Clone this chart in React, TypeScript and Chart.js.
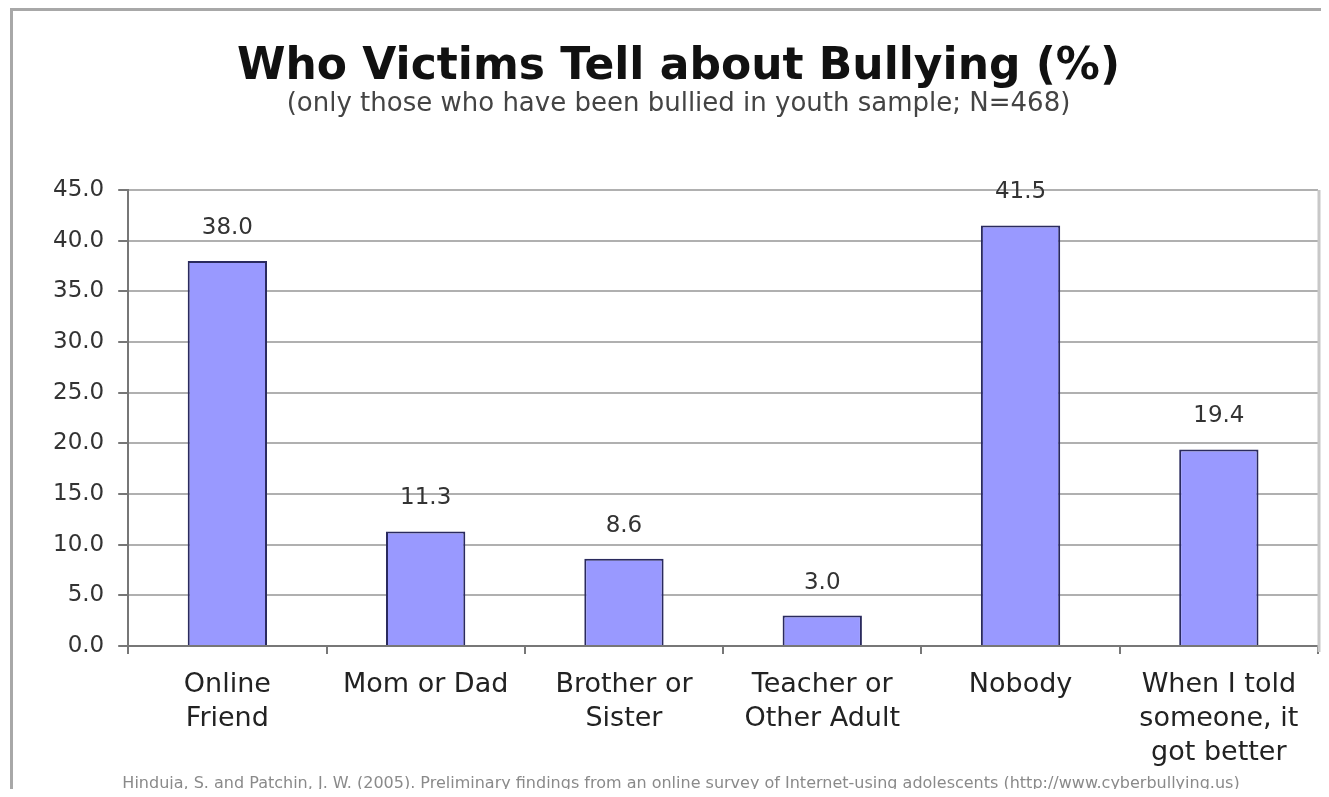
import React, { useEffect, useRef } from "react";
import { Chart, registerables } from "chart.js";

Chart.register(...registerables);

const categories: string[][] = [
  ["Online", "Friend"],
  ["Mom or Dad"],
  ["Brother or", "Sister"],
  ["Teacher or", "Other Adult"],
  ["Nobody"],
  ["When I told", "someone, it", "got better"],
];
const values: number[] = [38.0, 11.3, 8.6, 3.0, 41.5, 19.4];
const yMin = 0;
const yMax = 45;
const yStep = 5;

const titleText = "Who Victims Tell about Bullying (%)";
const subtitleText = "(only those who have been bullied in youth sample; N=468)";
const footerText =
  "Hinduja, S. and Patchin, J. W. (2005). Preliminary findings from an online survey of Internet-using adolescents (http://www.cyberbullying.us)";

const FONT = "'DejaVu Sans', 'Liberation Sans', Arial, sans-serif";

const valueLabelPlugin = {
  id: "valueLabels",
  afterDatasetsDraw(chart: any) {
    const ctx = chart.ctx;
    const meta = chart.getDatasetMeta(0);
    ctx.save();
    ctx.font = `23px ${FONT}`;
    ctx.fillStyle = "#333333";
    ctx.textAlign = "center";
    ctx.textBaseline = "middle";
    meta.data.forEach((bar: any, i: number) => {
      const v = chart.data.datasets[0].data[i] as number;
      ctx.fillText(v.toFixed(1), bar.x, bar.y - 33);
    });
    ctx.restore();
  },
};

const frameExtrasPlugin = {
  id: "frameExtras",
  afterDraw(chart: any) {
    const ctx = chart.ctx;
    const a = chart.chartArea;
    ctx.save();
    ctx.strokeStyle = "#c8c8c8";
    ctx.lineWidth = 3;
    ctx.beginPath();
    ctx.moveTo(a.right + 1, a.top);
    ctx.lineTo(a.right + 1, a.bottom + 6);
    ctx.stroke();
    ctx.font = `16px ${FONT}`;
    ctx.fillStyle = "#8a8a8a";
    ctx.textAlign = "center";
    ctx.textBaseline = "middle";
    ctx.fillText(footerText, 681, 784);
    ctx.restore();
  },
};

export default function App() {
  const canvasRef = useRef<HTMLCanvasElement | null>(null);

  useEffect(() => {
    if (!canvasRef.current) return;
    const chart = new Chart(canvasRef.current, {
      type: "bar",
      data: {
        labels: categories,
        datasets: [
          {
            data: values,
            backgroundColor: "#9999ff",
            borderColor: "#2a2a5e",
            borderWidth: 2,
            barPercentage: 0.8,
            categoryPercentage: 0.5,
          },
        ],
      },
      options: {
        animation: false,
        responsive: false,
        maintainAspectRatio: false,
        layout: { padding: { left: 39, right: 11, top: 0, bottom: 13 } },
        plugins: {
          legend: { display: false },
          tooltip: { enabled: false },
          title: {
            display: true,
            text: titleText,
            color: "#111111",
            font: { family: FONT, size: 44, weight: "bold", lineHeight: 1 },
            padding: { top: 46, bottom: 1 },
          },
          subtitle: {
            display: true,
            text: subtitleText,
            color: "#444444",
            font: { family: FONT, size: 26, lineHeight: 1 },
            padding: { top: 0, bottom: 73 },
          },
        },
        scales: {
          x: {
            grid: {
              display: true,
              drawOnChartArea: false,
              offset: true,
              tickLength: 8,
              color: "#777777",
              lineWidth: 2,
            },
            border: { color: "#777777", width: 2 },
            ticks: {
              color: "#222222",
              font: { family: FONT, size: 27, lineHeight: 1.26 },
              padding: 14,
              maxRotation: 0,
              minRotation: 0,
              autoSkip: false,
            },
          },
          y: {
            min: yMin,
            max: yMax,
            ticks: {
              stepSize: yStep,
              color: "#333333",
              font: { family: FONT, size: 23 },
              padding: 14,
              callback: (v: any) => Number(v).toFixed(1),
            },
            grid: {
              color: "#b0b0b0",
              lineWidth: 2,
              tickLength: 10,
              tickColor: "#777777",
            },
            border: { color: "#777777", width: 2 },
          },
        },
      },
      plugins: [valueLabelPlugin, frameExtrasPlugin],
    });
    return () => chart.destroy();
  }, []);

  return (
    <div
      style={{
        position: "relative",
        width: 1329,
        height: 797,
        margin: "-8px",
        overflow: "hidden",
        background: "#ffffff",
      }}
    >
      <div
        style={{
          position: "absolute",
          left: 10,
          top: 8,
          width: 1340,
          height: 785,
          borderTop: "3px solid #a8a8a8",
          borderLeft: "3px solid #a8a8a8",
          borderBottom: "2px solid #a8a8a8",
        }}
      />
      <canvas
        ref={canvasRef}
        width={1329}
        height={797}
        style={{ position: "absolute", left: 0, top: 0, width: 1329, height: 797 }}
      />
    </div>
  );
}
